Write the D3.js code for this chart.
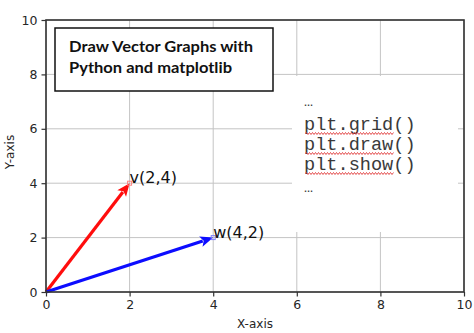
<!DOCTYPE html>
<html>
<head>
<meta charset="utf-8">
<script src="https://cdn.jsdelivr.net/npm/d3@7"></script>
<style>
  html, body { margin: 0; padding: 0; background: #fff; }
  svg { display: block; }
</style>
</head>
<body>
<svg id="chart" width="474" height="333"></svg>
<script>
// Axis ticks
const xTicks = [0, 2, 4, 6, 8, 10];
const yTicks = [0, 2, 4, 6, 8, 10];

// Vectors drawn from the origin
const vectorNames = ["v", "w"];
const vectorX = [2, 4];
const vectorY = [4, 2];
const vectorColors = ["#ff0d0d", "#0d0dff"];
const markerColors = ["#ff8080", "#8080ff"];

// Annotation texts
const titleLines = ["Draw Vector Graphs with", "Python and matplotlib"];
const codeLines = ["\u2026", "plt.grid()", "plt.draw()", "plt.show()", "\u2026"];
const squiggled = [false, true, true, true, false];

const width = 474, height = 333;
const margin = { top: 20, right: 10, bottom: 41, left: 46 };

const svg = d3.select("#chart");

const x = d3.scaleLinear().domain([0, 10]).range([margin.left, width - margin.right]);
const y = d3.scaleLinear().domain([0, 10]).range([height - margin.bottom, margin.top]);

// Grid
const grid = svg.append("g").attr("stroke", "#c4c4c4").attr("stroke-width", 1);
grid.selectAll("line.gx").data(xTicks).join("line")
  .attr("x1", d => x(d)).attr("x2", d => x(d))
  .attr("y1", y(0)).attr("y2", y(10));
grid.selectAll("line.gy").data(yTicks).join("line")
  .attr("y1", d => y(d)).attr("y2", d => y(d))
  .attr("x1", x(0)).attr("x2", x(10));

// Code snippet panel (white background covering the grid)
const codePanel = svg.append("g");
codePanel.append("rect")
  .attr("x", 292).attr("y", 76).attr("width", 166).attr("height", 156)
  .attr("fill", "#fff");

const codeX = 304, codeBase = 130, codeStep = 20;
const lineY = i => i === 0 ? 106 : (i === 4 ? 192 : codeBase + (i - 1) * codeStep);
codePanel.selectAll("text").data(codeLines).join("text")
  .attr("x", codeX)
  .attr("y", (d, i) => lineY(i))
  .attr("font-family", "'Liberation Mono', 'Courier New', monospace")
  .attr("font-size", (d, i) => (i === 0 || i === 4) ? 15 : 18.6)
  .attr("fill", "#3a3a3a")
  .text(d => d);

// Spell-check style wavy underline below the function names
function squiggle(x0, x1, yy) {
  const p = d3.path();
  p.moveTo(x0, yy);
  let up = true;
  for (let xx = x0 + 1.5; xx <= x1; xx += 1.5) {
    p.lineTo(xx, yy + (up ? -1 : 1));
    up = !up;
  }
  return p.toString();
}
codeLines.forEach((line, i) => {
  if (!squiggled[i]) return;
  const yy = lineY(i) + 3.5;
  const nameLen = line.indexOf("(");
  codePanel.append("path")
    .attr("d", squiggle(codeX + 1, codeX + 1 + nameLen * 11.16, yy))
    .attr("fill", "none")
    .attr("stroke", "#e03a3a")
    .attr("stroke-width", 0.9);
});

// Title box
const title = svg.append("g");
title.append("rect")
  .attr("x", 55).attr("y", 28).attr("width", 218).attr("height", 63)
  .attr("fill", "#fff").attr("stroke", "#111").attr("stroke-width", 1.5);
const titleWidths = [184, 163];
title.selectAll("text").data(titleLines).join("text")
  .attr("x", 69)
  .attr("y", (d, i) => 52 + i * 21)
  .attr("font-family", "Lato, 'Open Sans', sans-serif")
  .attr("font-weight", "bold")
  .attr("font-size", 15)
  .attr("fill", "#111")
  .attr("textLength", (d, i) => titleWidths[i])
  .attr("lengthAdjust", "spacingAndGlyphs")
  .text(d => d);

// Vectors
const vecs = vectorNames.map((n, i) => ({ name: n, x: vectorX[i], y: vectorY[i], color: vectorColors[i], mcolor: markerColors[i] }));
const headLen = 13, headHalf = 5.5;
const vg = svg.append("g");
vecs.forEach(v => {
  const x0 = x(0), y0 = y(0), x1 = x(v.x), y1 = y(v.y);
  const dx = x1 - x0, dy = y1 - y0, L = Math.hypot(dx, dy);
  const ux = dx / L, uy = dy / L;
  const bx = x1 - ux * headLen, by = y1 - uy * headLen;
  vg.append("line")
    .attr("x1", x0).attr("y1", y0).attr("x2", bx + ux * 2).attr("y2", by + uy * 2)
    .attr("stroke", v.color).attr("stroke-width", 3.2);
  vg.append("path")
    .attr("d", `M${x1},${y1}L${bx - uy * headHalf},${by + ux * headHalf}L${bx + ux * 3},${by + uy * 3}L${bx + uy * headHalf},${by - ux * headHalf}Z`)
    .attr("fill", v.color);
  vg.append("rect")
    .attr("x", x1 - 2).attr("y", y1 - 2).attr("width", 4).attr("height", 4)
    .attr("fill", "none").attr("stroke", v.mcolor).attr("stroke-width", 1);
  vg.append("text")
    .attr("x", x1).attr("y", y1)
    .attr("font-family", "'DejaVu Sans', sans-serif")
    .attr("font-size", 16)
    .attr("fill", "#111")
    .text(`${v.name}(${v.x},${v.y})`);
});

// Axes
const axisColor = "#333";
const xAxis = svg.append("g")
  .attr("transform", `translate(0,${y(0)})`)
  .call(d3.axisBottom(x).tickValues(xTicks).tickSize(4.5).tickPadding(4).tickFormat(d3.format("d")));
const yAxis = svg.append("g")
  .attr("transform", `translate(${x(0)},0)`)
  .call(d3.axisLeft(y).tickValues(yTicks).tickSize(4.5).tickPadding(4).tickFormat(d3.format("d")));
[xAxis, yAxis].forEach(a => {
  a.select(".domain").remove();
  a.selectAll(".tick line").attr("stroke", axisColor).attr("stroke-width", 1.2);
  a.selectAll(".tick text")
    .attr("font-family", "'DejaVu Sans', sans-serif")
    .attr("font-size", 12.5)
    .attr("fill", "#262626");
});

// Spines
svg.append("rect")
  .attr("x", x(0)).attr("y", y(10))
  .attr("width", x(10) - x(0)).attr("height", y(0) - y(10))
  .attr("fill", "none").attr("stroke", axisColor).attr("stroke-width", 1.6);

// Axis labels
svg.append("text")
  .attr("x", (x(0) + x(10)) / 2).attr("y", 328)
  .attr("text-anchor", "middle")
  .attr("font-family", "'DejaVu Sans', sans-serif")
  .attr("font-size", 12)
  .attr("fill", "#262626")
  .text("X-axis");
svg.append("text")
  .attr("transform", `translate(14,152) rotate(-90)`)
  .attr("text-anchor", "middle")
  .attr("font-family", "'DejaVu Sans', sans-serif")
  .attr("font-size", 12)
  .attr("fill", "#262626")
  .text("Y-axis");
</script>
</body>
</html>
